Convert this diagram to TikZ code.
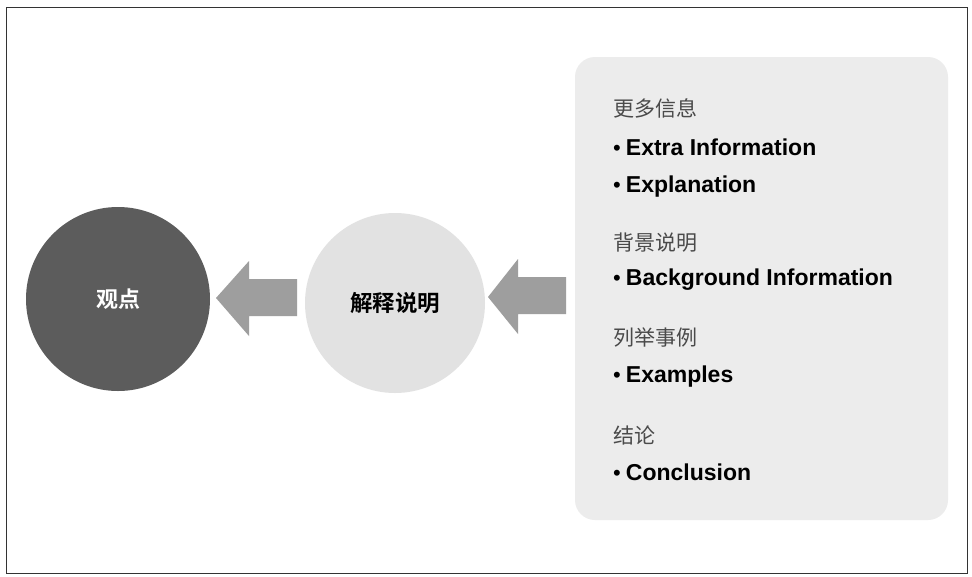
\documentclass[tikz,border=0pt]{standalone}
\usepackage{fontspec}
\setmainfont{Liberation Sans}
\newfontfamily\cjk{Noto Sans CJK SC}
\newfontfamily\cjkb{Noto Sans CJK SC Bold}
\definecolor{darkc}{HTML}{5C5C5C}
\definecolor{lightc}{HTML}{E2E2E2}
\definecolor{arrowc}{HTML}{9E9E9E}
\definecolor{panelc}{HTML}{ECECEC}
\definecolor{headc}{HTML}{4A4A4A}
\newcommand{\bul}{{\mdseries\fontsize{22}{24}\selectfont •}\hspace{5pt}}
\tikzset{
  blockarrow/.style={fill=arrowc, draw=none},
  heading/.style={anchor=west, inner sep=0pt, text=headc, font=\cjk\fontsize{21}{24}\selectfont},
  item/.style={anchor=west, inner sep=0pt, text=black, font=\bfseries\fontsize{23}{26}\selectfont},
}
\begin{document}
\begin{tikzpicture}[x=1pt,y=-1pt]
\useasboundingbox (0,0) rectangle (972,576);
\fill[white] (0,0) rectangle (972,576);
\draw[line width=1pt, black!80] (6,7) rectangle (967,573);
% panel
\fill[panelc, rounded corners=20pt] (575,57) rectangle (948,520);
% circles
\node[circle, fill=darkc, minimum size=184pt, inner sep=0pt, text=white,
      font=\cjkb\fontsize{22}{24}\selectfont] (view) at (118,299) {观点};
\node[circle, fill=lightc, minimum size=180pt, inner sep=0pt, text=black,
      font=\cjkb\fontsize{22.5}{24}\selectfont] (expl) at (395,303) {解释说明};
% block arrows
\fill[blockarrow] (216,298) -- (249,261) -- (249,279) -- (297,279) -- (297,316) -- (249,316) -- (249,336) -- cycle;
\fill[blockarrow] (488,297) -- (518,259) -- (518,277) -- (566,277) -- (566,314) -- (518,314) -- (518,334) -- cycle;
% texts
\node[heading] (h1) at (613,108) {更多信息};
\node[item] (i1) at (613,147) {\bul Extra Information};
\node[item] (i2) at (613,187) {\bul Explanation};
\node[heading] (h2) at (613,243) {背景说明};
\node[item] (i3) at (613,280) {\bul Background Information};
\node[heading] (h3) at (613,338) {列举事例};
\node[item] (i4) at (613,377) {\bul Examples};
\node[heading] (h4) at (613,435) {结论};
\node[item] (i5) at (613,472) {\bul Conclusion};
\end{tikzpicture}
\end{document}
